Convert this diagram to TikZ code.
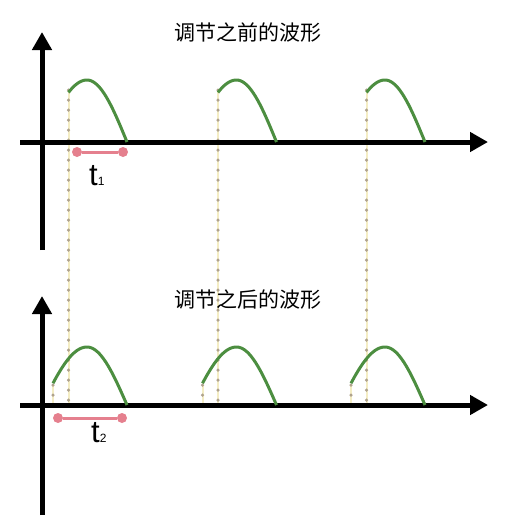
\documentclass[tikz,border=0pt]{standalone}
\usepackage{fontspec}
\setmainfont{Liberation Sans}
\newfontfamily\cjk{Noto Sans CJK SC}
\usetikzlibrary{arrows.meta}
\definecolor{wavegreen}{RGB}{76,142,64}
\definecolor{barpink}{RGB}{229,128,142}
\definecolor{guideyellow}{RGB}{244,237,196}
\definecolor{guidedot}{RGB}{175,162,140}
\newcommand{\tsub}[1]{{\fontsize{12}{12}\selectfont #1}}
\tikzset{
	axis/.style={line width=5pt, -{Triangle[length=18pt,width=19pt]}},
	wave/.style={wavegreen, line width=3pt},
	guide/.style={guideyellow, line width=2pt, postaction={draw=guidedot, line width=3.5pt, line cap=round, dash pattern=on 0pt off 10pt}},
	bar/.style={barpink, line width=3pt},
	dotend/.style={circle, fill=barpink, inner sep=0pt, minimum size=10pt},
	title/.style={font=\cjk\fontsize{21}{21}\selectfont},
	tlabel/.style={font=\fontsize{31}{31}\selectfont, inner sep=0pt}
}
\begin{document}
\begin{tikzpicture}[x=1pt, y=-1pt]
	\useasboundingbox (0,0) rectangle (525,528);
	% guides
	\foreach \p in {87,236.5,385} {
		\draw[guide] (\p-18.5,90) -- (\p-18.5,405);
		\draw[guide] (\p-34,385) -- (\p-34,405);
	}
	% before
	\draw[axis] (20,142) -- (488,142);
	\draw[axis] (42,250) -- (42,32);
	\node[title] (before) at (248,33) {调节之前的波形};
	\foreach \p in {87,236.5,385} {
		\draw[wave] plot[domain=-18.5:0, samples=20] ({\p+\x},{142-62*cos(\x/45*90)}) -- plot[domain=0:40, samples=20] ({\p+\x},{142-62*cos(\x/40*90)});
	}
	\node[dotend] (a1) at (77,152) {};
	\node[dotend] (b1) at (123,152) {};
	\draw[bar] (a1) -- (b1);
	\node[tlabel, anchor=base west] (t1) at (89,185) {t\tsub{1}};
	% after
	\draw[axis] (20,405) -- (488,405);
	\draw[axis] (42,515) -- (42,296);
	\node[title] (after) at (248,300) {调节之后的波形};
	\foreach \p in {87,236.5,385} {
		\draw[wave] plot[domain=-34:0, samples=20] ({\p+\x},{405-58*cos(\x/45*90)}) -- plot[domain=0:40, samples=20] ({\p+\x},{405-58*cos(\x/40*90)});
	}
	\node[dotend] (a2) at (58,418) {};
	\node[dotend] (b2) at (122,418) {};
	\draw[bar] (a2) -- (b2);
	\node[tlabel, anchor=base west] (t2) at (91,442) {t\tsub{2}};
\end{tikzpicture}
\end{document}
